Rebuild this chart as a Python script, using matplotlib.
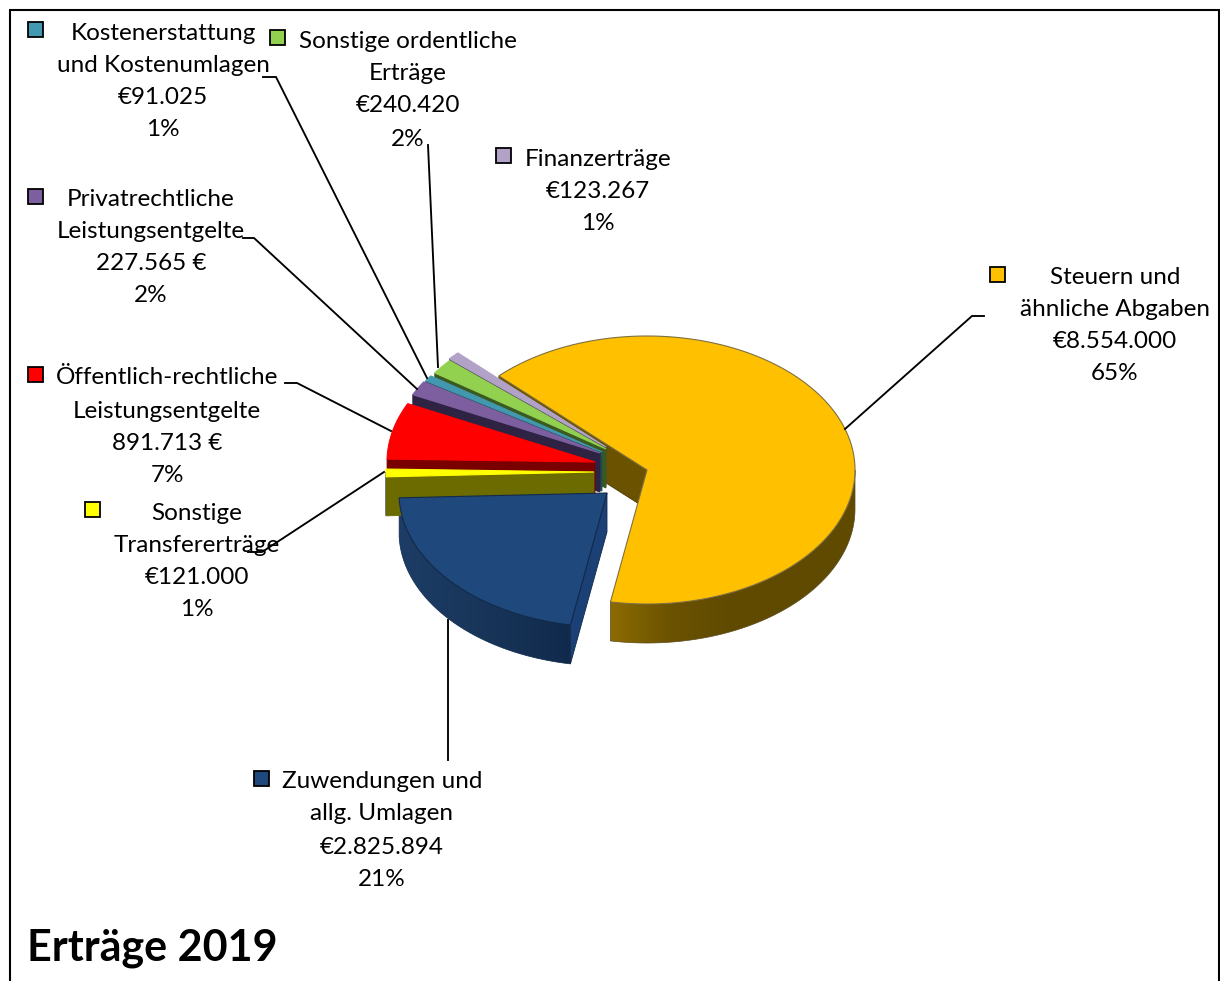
import numpy as np
import matplotlib
matplotlib.use("Agg")
import matplotlib.pyplot as plt
from matplotlib.patches import Polygon, Rectangle
from matplotlib.colors import LinearSegmentedColormap

# Slices in clockwise order
categories = [
    ["Steuern und", "ähnliche Abgaben"],
    ["Zuwendungen und", "allg. Umlagen"],
    ["Sonstige", "Transfererträge"],
    ["Öffentlich-rechtliche", "Leistungsentgelte"],
    ["Privatrechtliche", "Leistungsentgelte"],
    ["Kostenerstattung", "und Kostenumlagen"],
    ["Sonstige ordentliche", "Erträge"],
    ["Finanzerträge"],
]
values = [8554000, 2825894, 121000, 891713, 227565, 91025, 240420, 123267]
value_labels = ["€8.554.000", "€2.825.894", "€121.000", "891.713 €", "227.565 €", "€91.025", "€240.420", "€123.267"]
percent_labels = ["65%", "21%", "1%", "7%", "2%", "1%", "2%", "1%"]

# Colours
top_colors = ["#FFC000", "#1F497D", "#FFFF00", "#FF0000", "#7D5F9F", "#4198AF", "#92D050", "#B3A2C7"]
wall_colors = ["#6B5200", "#1B4076", "#6B6B00", "#7A0000", "#2F2344", "#1F4C58", "#3A5A20", "#4A4255"]
key_colors = ["#FFC000", "#1F497D", "#FFFF00", "#FF0000", "#7D5F9F", "#4198AF", "#92D050", "#B3A2C7"]
rim_shades = {
    0: ["#8C6B00", "#6B5200", "#5F4A00", "#5F4A00", "#5F4A00"],
    1: ["#1D3D66", "#183559", "#102A4C"],
    2: ["#6B6B00", "#6B6B00"],
}

# Layout in pixels
RX, RY, DEPTH = 208, 134, 39
START_ANGLE = 135.4
slice_centers = [(647, 470), (607, 493), (594, 472), (595, 462), (600, 453), (602, 452), (606, 449), (606, 447)]
label_centers = [1115, 382, 197, 167, 151, 163, 408, 598]
label_lines_y = [
    [276, 308, 340, 372],
    [780, 812, 845, 877],
    [511, 544, 576, 608],
    [376, 409, 441, 474],
    [198, 230, 262, 294],
    [31, 63, 95, 127],
    [39, 71, 104, 137],
    [157, 189, 222],
]
key_positions = [(997, 274), (261, 778), (92, 509), (35, 374), (35, 196), (35, 29.5), (277, 37), (503, 155)]
leader_lines = [
    [(845, 429), (972, 316), (984, 316)],
    [(448, 620), (448, 760)],
    [(384, 472), (262, 552), (248, 552)],
    [(391, 431), (297, 383), (285, 383)],
    [(417, 389), (254, 238), (243, 238)],
    [(427, 378), (276, 77), (263, 77)],
    [(438, 367), (428, 145)],
]
FONT = "Lato"


def rim_point(center, angle):
    a = np.radians(angle)
    return center[0] + RX * np.cos(a), center[1] - RY * np.sin(a)


def rim_points(center, a0, a1):
    n = max(int(abs(a1 - a0)) + 2, 3)
    return [rim_point(center, a) for a in np.linspace(a0, a1, n)]


def draw_front_rim(ax, idx, center, a0, a1):
    # shaded outer wall, only the part facing the viewer
    lo, hi = max(min(a0, a1), -180), min(max(a0, a1), 0)
    if hi <= lo:
        return
    curve = rim_points(center, lo, hi)
    lower = [(x, y + DEPTH) for x, y in reversed(curve)]
    outline = Polygon(curve + lower, closed=True, facecolor="none", edgecolor="#5A4A20" if idx == 0 else "#102A4C", linewidth=0.5)
    ax.add_patch(outline)
    xs = [p[0] for p in curve]
    ys = [p[1] for p in curve]
    cmap = LinearSegmentedColormap.from_list("rim", rim_shades[idx])
    img = ax.imshow(np.linspace(0, 1, 256)[None, :], cmap=cmap, aspect="auto",
                    extent=(min(xs), max(xs), max(ys) + DEPTH, min(ys)), zorder=1.5, interpolation="bilinear")
    img.set_clip_path(outline)
    outline.set_zorder(1.6)


def draw_cut_wall(ax, center, angle, color, edge):
    end = rim_point(center, angle)
    quad = [center, end, (end[0], end[1] + DEPTH), (center[0], center[1] + DEPTH)]
    ax.add_patch(Polygon(quad, closed=True, facecolor=color, edgecolor=edge, linewidth=0.6, zorder=2))


def draw_top(ax, center, a0, a1, color, edge):
    pts = [center] + rim_points(center, a0, a1)
    ax.add_patch(Polygon(pts, closed=True, facecolor=color, edgecolor=edge, linewidth=0.8, zorder=2))


fig = plt.figure(figsize=(12.2, 9.81), dpi=100)
ax = fig.add_axes([0, 0, 1, 1])
ax.axis("off")

# Chart frame, open at the bottom
ax.plot([9.5, 9.5], [981, 9.5], color="black", lw=1.5, solid_capstyle="butt")
ax.plot([9, 1219], [9.5, 9.5], color="black", lw=1.5, solid_capstyle="butt")
ax.plot([1219, 1219], [9, 981], color="black", lw=1.5, solid_capstyle="butt")

# Sweep angles follow from the values
sweeps = np.array(values) / np.sum(values) * 360.0
ends = START_ANGLE - np.cumsum(sweeps)
starts = np.concatenate([[START_ANGLE], ends[:-1]])

# Large slice first, then the others from the back towards the front
draw_cut_wall(ax, slice_centers[0], starts[0], wall_colors[0], "#4A3A00")
draw_front_rim(ax, 0, slice_centers[0], ends[0], min(starts[0], 0))
draw_top(ax, slice_centers[0], starts[0], ends[0], top_colors[0], "#7F7040")

for i in [7, 6, 5, 4, 3, 2, 1]:
    c = slice_centers[i]
    if i == 1:
        # the exposed cut on the right of this slice
        draw_cut_wall(ax, c, starts[i], wall_colors[i], "#12294A")
    else:
        draw_cut_wall(ax, c, starts[i], wall_colors[i], wall_colors[i])
    edge = "#12294A" if i == 1 else top_colors[i]
    draw_top(ax, c, starts[i], ends[i], top_colors[i], edge)
for i in [2, 1]:
    draw_front_rim(ax, i, slice_centers[i], ends[i], starts[i])

# Leader lines
for line in leader_lines:
    xs, ys = zip(*line)
    ax.plot(xs, ys, color="black", lw=1.35, solid_joinstyle="miter", zorder=3)

# Data labels
for i, cat in enumerate(categories):
    lines = cat + [value_labels[i], percent_labels[i]]
    for text, y in zip(lines, label_lines_y[i]):
        ax.text(label_centers[i], y, text, ha="center", va="center_baseline",
                fontsize=17.5, family=FONT, color="black", zorder=4)
    kx, ky = key_positions[i]
    ax.add_patch(Rectangle((kx - 7.5, ky - 7.5), 15, 15, facecolor=key_colors[i], edgecolor="black", linewidth=1.3, zorder=4))

ax.text(27, 944, "Erträge 2019", ha="left", va="center_baseline", fontsize=31,
        family=FONT, fontweight="bold", color="black", zorder=4)

# imshow resets the limits, so pixel coordinates go last
ax.set_xlim(0, 1220)
ax.set_ylim(981, 0)

fig.savefig("out.png", dpi=100)
